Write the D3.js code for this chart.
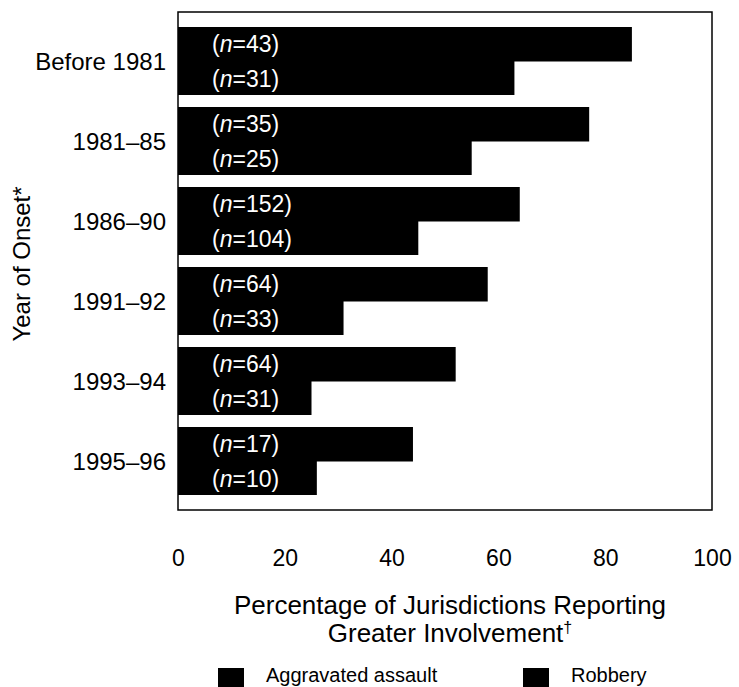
<!DOCTYPE html>
<html>
<head>
<meta charset="utf-8">
<script src="https://cdn.jsdelivr.net/npm/d3@7"></script>
<style>
  body { margin:0; background:#fff; }
  text { font-family: "Liberation Sans", Arial, sans-serif; }
</style>
</head>
<body>
<svg id="chart" width="739" height="687"></svg>
<script>
// data
var periods = ["Before 1981", "1981–85", "1986–90", "1991–92", "1993–94", "1995–96"];
var assault = [85, 77, 64, 58, 52, 44];
var robbery = [63, 55, 45, 31, 25, 26];
var assaultN = [43, 35, 152, 64, 64, 17];
var robberyN = [31, 25, 104, 33, 31, 10];
var xTicks = [0, 20, 40, 60, 80, 100];
var seriesNames = ["Aggravated assault", "Robbery"];

var svg = d3.select("#chart");
var plotL = 178, plotR = 712, plotT = 12, plotB = 510;

var x = d3.scaleLinear().domain([0, 100]).range([plotL, plotR]);
var y = d3.scaleBand().domain(periods).range([plotT, plotB])
    .paddingInner(0.15).paddingOuter(0.1875);

var rows = periods.map(function(p, i) {
  return {p: p, a: assault[i], r: robbery[i], na: assaultN[i], nr: robberyN[i]};
});

var g = svg.append("g");
var half = y.bandwidth() / 2;

// assault bars (top half of each band)
g.selectAll("rect.a").data(rows).enter().append("rect")
  .attr("class", "a")
  .attr("x", x(0))
  .attr("y", function(d) { return y(d.p); })
  .attr("width", function(d) { return x(d.a) - x(0); })
  .attr("height", half + 0.5)
  .attr("fill", "#000");

// robbery bars
g.selectAll("rect.r").data(rows).enter().append("rect")
  .attr("class", "r")
  .attr("x", x(0))
  .attr("y", function(d) { return y(d.p) + half; })
  .attr("width", function(d) { return x(d.r) - x(0); })
  .attr("height", half)
  .attr("fill", "#000");

// n labels inside bars
function nLabel(sel, key, off) {
  var t = sel.append("text")
    .attr("x", 212)
    .attr("y", function(d) { return y(d.p) + off; })
    .attr("fill", "#fff")
    .attr("font-size", 23);
  t.append("tspan").text("(");
  t.append("tspan").attr("font-style", "italic").text("n");
  t.append("tspan").text(function(d) { return "=" + d[key] + ")"; });
}
var la = g.selectAll("g.la").data(rows).enter().append("g").attr("class", "la");
nLabel(la, "na", half / 2 + 8);
var lr = g.selectAll("g.lr").data(rows).enter().append("g").attr("class", "lr");
nLabel(lr, "nr", half * 1.5 + 9);

// frame
svg.append("rect")
  .attr("x", plotL).attr("y", plotT)
  .attr("width", plotR - plotL).attr("height", plotB - plotT)
  .attr("fill", "none").attr("stroke", "#000").attr("stroke-width", 1.5);

// y category labels
svg.selectAll("text.cat").data(periods).enter().append("text")
  .attr("class", "cat")
  .attr("x", 166)
  .attr("y", function(d) { return y(d) + half + 9; })
  .attr("text-anchor", "end")
  .attr("font-size", 24)
  .text(function(d) { return d; });

// x axis, labels only
var xAxis = d3.axisBottom(x).tickValues(xTicks).tickSize(0).tickPadding(0);
var ax = svg.append("g").attr("transform", "translate(0,550)").call(xAxis);
ax.select(".domain").remove();
ax.selectAll("text").attr("font-size", 23).attr("fill", "#000")
  .attr("font-family", "Liberation Sans, Arial, sans-serif");

// axis titles
svg.append("text")
  .attr("transform", "translate(30,264) rotate(-90)")
  .attr("text-anchor", "middle")
  .attr("font-size", 24)
  .text("Year of Onset*");

svg.append("text")
  .attr("x", 450).attr("y", 614)
  .attr("text-anchor", "middle").attr("font-size", 26)
  .text("Percentage of Jurisdictions Reporting");
var t2 = svg.append("text")
  .attr("x", 450).attr("y", 642)
  .attr("text-anchor", "middle").attr("font-size", 26);
t2.append("tspan").text("Greater Involvement");
t2.append("tspan").attr("dy", -9).attr("font-size", 16).text("†");

// legend
var legX = [218, 523];
var leg = svg.selectAll("g.leg").data(seriesNames).enter().append("g")
  .attr("class", "leg")
  .attr("transform", function(d, i) { return "translate(" + legX[i] + ",668)"; });
leg.append("rect").attr("width", 26).attr("height", 19).attr("fill", "#000");
leg.append("text").attr("x", 48).attr("y", 14).attr("font-size", 20)
  .text(function(d) { return d; });
</script>
</body>
</html>
